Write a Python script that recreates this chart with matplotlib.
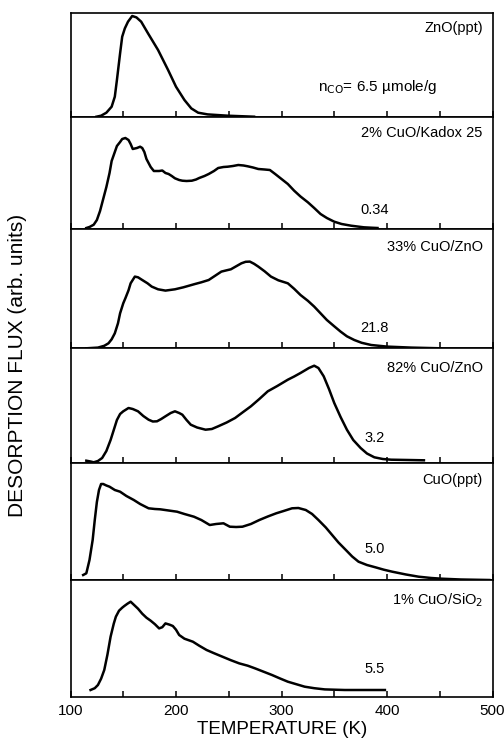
import numpy as np
import matplotlib
matplotlib.use("Agg")
import matplotlib.pyplot as plt

plt.rcParams['font.family'] = ['Liberation Sans', 'DejaVu Sans']

# ---------------- data (temperature K, desorption flux arb. units) ----------------
names = ["ZnO(ppt)", "2% CuO/Kadox 25", "33% CuO/ZnO",
         "82% CuO/ZnO", "CuO(ppt)", "1% CuO/SiO$_2$"]
amounts = ["", "0.34", "21.8", "3.2", "5.0", "5.5"]

t_zno = [124.6, 129, 134, 139, 142, 144, 147, 149, 151.5, 154.5, 158.5, 162.5,
         167, 173.5, 183, 192.5, 200, 208, 214.5, 221, 230, 249, 274]
f_zno = [0, 1, 4, 10, 20, 36.7, 63.3, 80, 88.3, 95, 100.7, 99.3,
         95, 83.3, 66.7, 46.7, 30, 16.7, 8.3, 4, 2.3, 1, 0]

t_kadox = [115, 118, 122, 125, 128, 131, 134, 137, 139, 142, 144, 147, 149,
           152, 155, 157, 159, 163, 166, 168, 170, 172, 176, 179, 184, 187,
           190, 193, 196, 199, 203, 206, 210, 215, 219, 222, 227, 231, 236,
           240, 245, 249, 254, 259, 264, 268, 273, 278, 284, 289, 294, 300,
           306, 312, 318, 325, 331, 337, 343, 350, 357, 366, 372, 378, 385, 391]
f_kadox = [1, 2, 4.3, 9, 18, 30, 42, 56, 68, 77, 83, 87, 90,
           91, 89, 85, 80, 81, 82.3, 81, 77, 70, 62, 58, 58, 58.5,
           56, 55, 53, 50.7, 49, 48.3, 48, 48.3, 49.5, 51, 53, 55, 58,
           61, 62, 62.3, 63, 64, 63.5, 62.7, 61.5, 60, 59.5, 59, 55, 50,
           45, 38.3, 32.5, 26.7, 21, 15, 11, 7.3, 5, 3.3, 2.5, 1.7, 1.3, 1]

t_cuzn33 = [115, 126, 132, 136, 139, 142, 145, 147, 150, 152, 155, 157, 161,
            164, 168, 173, 177, 183, 190, 199, 207, 212, 218, 224, 231, 237,
            243, 248, 252, 257, 262, 266, 270, 274, 278, 284, 290, 297, 306,
            312, 318, 325, 331, 337, 343, 350, 356, 362, 369, 376, 385, 400,
            423, 451]
f_cuzn33 = [0, 0.7, 2.5, 5, 9, 15, 25, 35, 45, 50, 58, 65, 71.7,
            71, 68.3, 65, 61.7, 59, 57.7, 59, 61, 62.5, 64.3, 66, 68.3, 72.5,
            76.7, 78, 79, 82, 85, 86.5, 86.7, 84.5, 81.7, 77, 71.7, 68, 65,
            59.5, 53.3, 47.5, 41.7, 35, 28.3, 22, 16.7, 12, 8.3, 5.5, 3.3, 1.7,
            0.7, 0]

t_cuzn82 = [115, 119, 122, 126, 130, 134, 138, 141, 144, 147, 150, 155, 159,
            164, 169, 174, 178, 182, 186, 190, 195, 199, 203, 206, 210, 214,
            220, 228, 234, 240, 248, 256, 263, 271, 279, 287, 296, 306, 312,
            318, 322, 326, 331, 335, 340, 345, 350, 356, 362, 368, 375, 381,
            388, 396, 404, 420, 435]
f_cuzn82 = [2.3, 1.5, 0.7, 2, 5, 12, 23, 33, 43, 49, 51.7, 55, 54,
            51.7, 47, 43.3, 41.5, 41.7, 44, 46.7, 50, 51.7, 50, 48.3, 43, 38.3,
            35.5, 33.3, 34, 36.7, 40.5, 45, 50.5, 56.7, 64, 71.7, 77, 83.3, 86.5,
            90, 92.5, 95, 97.3, 95, 86.7, 74, 60, 46, 33.3, 23, 15, 9.5,
            5.7, 4, 3.3, 3, 2.7]

t_cuo = [112, 115, 118, 121, 123, 125, 127, 129, 131, 134, 137, 142, 147,
         153, 160, 166, 174, 180, 185, 193, 201, 208, 217, 224, 232, 238,
         245, 251, 257, 263, 271, 279, 287, 295, 302, 310, 316, 323, 329,
         335, 342, 348, 354, 361, 367, 373, 381, 389, 397, 405, 418, 430,
         442, 452, 470, 497]
f_cuo = [5, 6.7, 20, 40, 60, 78, 90, 96, 96, 94.5, 93.3, 90, 88.3,
         84, 80, 76, 71.7, 71, 70.7, 69.5, 68.3, 66, 63.3, 60, 55, 56,
         56.7, 53.3, 53, 53.3, 56, 60, 63.5, 66.7, 69, 71.7, 72, 70, 66,
         60, 52.5, 45, 37.5, 30, 23.5, 18.3, 15, 12.7, 10.3, 8.3, 5.5, 3.3,
         2, 1.3, 0.5, 0]

t_sio2 = [119, 123, 126, 129, 132, 135, 138, 141, 143, 146, 149, 151, 154,
          157, 160, 164, 168, 172, 176, 180, 184, 187, 190, 194, 197, 200,
          203, 208, 216, 222, 229, 236, 244, 252, 260, 268, 275, 283, 291,
          298, 306, 314, 322, 331, 341, 350, 360, 380, 398]
f_sio2 = [6.7, 8.5, 11.7, 18, 26.7, 42, 60, 73, 80, 86, 89, 90.7, 93,
          95, 92, 88, 83, 79, 76, 72.5, 68.3, 69.5, 73.3, 72, 70.7, 67,
          61.7, 58, 55, 51, 46.7, 43.5, 40, 36.5, 33.3, 31, 28.3, 25, 21.7,
          18.5, 15, 12.5, 10, 8.5, 7.3, 7, 6.7, 6.7, 6.7]

temps = [t_zno, t_kadox, t_cuzn33, t_cuzn82, t_cuo, t_sio2]
fluxes = [f_zno, f_kadox, f_cuzn33, f_cuzn82, f_cuo, f_sio2]

# ---------------- layout ----------------
W, H = 504, 754
left_px, right_px = 70.5, 492.5
edges_px = [12.7, 116.7, 229, 348.3, 463, 580, 696.7]
name_off = [15, 16, 18, 20, 17, 20]          # px below panel top
amt_off = [30, 19, 20, 25, 31, 28]            # px above panel bottom

fig = plt.figure(figsize=(W / 100, H / 100), dpi=100)

axes = []
for i in range(6):
    top, bot = edges_px[i], edges_px[i + 1]
    hpx = bot - top
    ax = fig.add_axes([left_px / W, 1 - bot / H,
                       (right_px - left_px) / W, hpx / H])
    ax.plot(temps[i], fluxes[i], color='black', lw=1.8,
            solid_joinstyle='round')
    ax.set_xlim(100, 500)
    ax.set_ylim(0, hpx)
    ax.set_xticks(np.arange(100, 501, 50))
    ax.tick_params(axis='x', direction='in', length=4, width=1.1,
                   top=False, labelbottom=(i == 5), labelsize=11, pad=5)
    ax.set_xticklabels(['100', '', '200', '', '300', '', '400', '', '500'])
    ax.set_yticks([])
    for s in ax.spines.values():
        s.set_linewidth(1.2)

    ax.text(0.977, 1 - name_off[i] / hpx, names[i], transform=ax.transAxes,
            ha='right', va='center', fontsize=10.5)
    if amounts[i]:
        ax.text(388, amt_off[i], amounts[i], ha='center', va='center',
                fontsize=10.5)
    axes.append(ax)

axes[0].text(335, amt_off[0], "n$_{\\rm CO}$= 6.5 \u00b5mole/g",
             ha='left', va='center', fontsize=11)

fig.text(282 / W, 1 - 730 / H, "TEMPERATURE (K)", ha='center', va='center',
         fontsize=13.5)
fig.text(18 / W, 1 - 365 / H, "DESORPTION FLUX (arb. units)", ha='center',
         va='center', rotation=90, fontsize=15)

fig.savefig("out.png", dpi=100)
